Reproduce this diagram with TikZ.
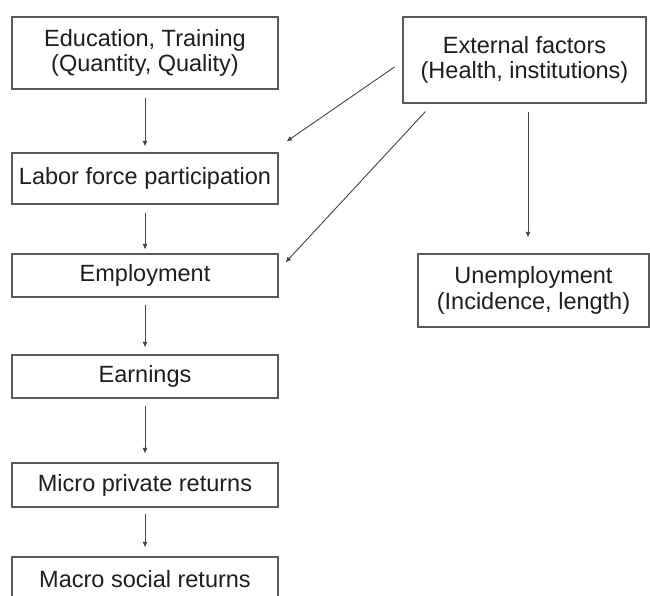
\documentclass[tikz,border=0pt]{standalone}
\usepackage{fontspec}
\setmainfont{Liberation Sans}
\usetikzlibrary{arrows.meta}
\definecolor{boxline}{HTML}{5A5A5A}
\definecolor{arrowline}{HTML}{444444}
\definecolor{txt}{HTML}{1E1E1E}
\tikzset{
  box/.style={draw=boxline, line width=1.1pt, fill=white, rectangle, inner sep=0pt,
    align=center, text=txt, font=\fontsize{23.5}{25.5}\selectfont},
  arr/.style={draw=arrowline, line width=0.9pt, -{Latex[length=5.5pt,width=5pt]}}
}
\begin{document}
\begin{tikzpicture}[x=1pt,y=-1pt]
\useasboundingbox (0,0) rectangle (650,595);
\fill[white] (0,0) rectangle (650,595);
\node[box, minimum width=266pt, minimum height=72pt] (edu) at (145,53) {Education, Training\\(Quantity, Quality)};
\node[box, minimum width=266pt, minimum height=51pt] (lfp) at (145,178.5) {Labor force participation};
\node[box, minimum width=266pt, minimum height=43pt] (emp) at (145,275.5) {Employment};
\node[box, minimum width=266pt, minimum height=43pt] (earn) at (145,376.5) {Earnings};
\node[box, minimum width=266pt, minimum height=44pt] (micro) at (145,485) {Micro private returns};
\node[box, minimum width=266pt, minimum height=44pt] (macro) at (145,579) {Macro social returns};
\node[box, minimum width=243pt, minimum height=86pt] (ext) at (524.5,60) {External factors\\(Health, institutions)};
\node[box, minimum width=231pt, minimum height=73pt] (unemp) at (533.5,290.5) {Unemployment\\(Incidence, length)};
\draw[arr] ([yshift=-8pt]edu.south) -- ([yshift=6pt]lfp.north);
\draw[arr] ([yshift=-8pt]lfp.south) -- ([yshift=4pt]emp.north);
\draw[arr] ([yshift=-7pt]emp.south) -- ([yshift=7pt]earn.north);
\draw[arr] ([yshift=-7pt]earn.south) -- ([yshift=9pt]micro.north);
\draw[arr] ([yshift=-6pt]micro.south) -- ([yshift=9pt]macro.north);
\draw[arr] ([xshift=-8pt,yshift=-7pt]ext.west) -- ([xshift=8pt,yshift=11pt]lfp.north east);
\draw[arr] ([xshift=23pt,yshift=-8pt]ext.south west) -- ([xshift=7pt,yshift=-9pt]emp.north east);
\draw[arr] ([xshift=3.5pt,yshift=-8pt]ext.south) -- ([xshift=-5.5pt,yshift=16pt]unemp.north);
\end{tikzpicture}
\end{document}
